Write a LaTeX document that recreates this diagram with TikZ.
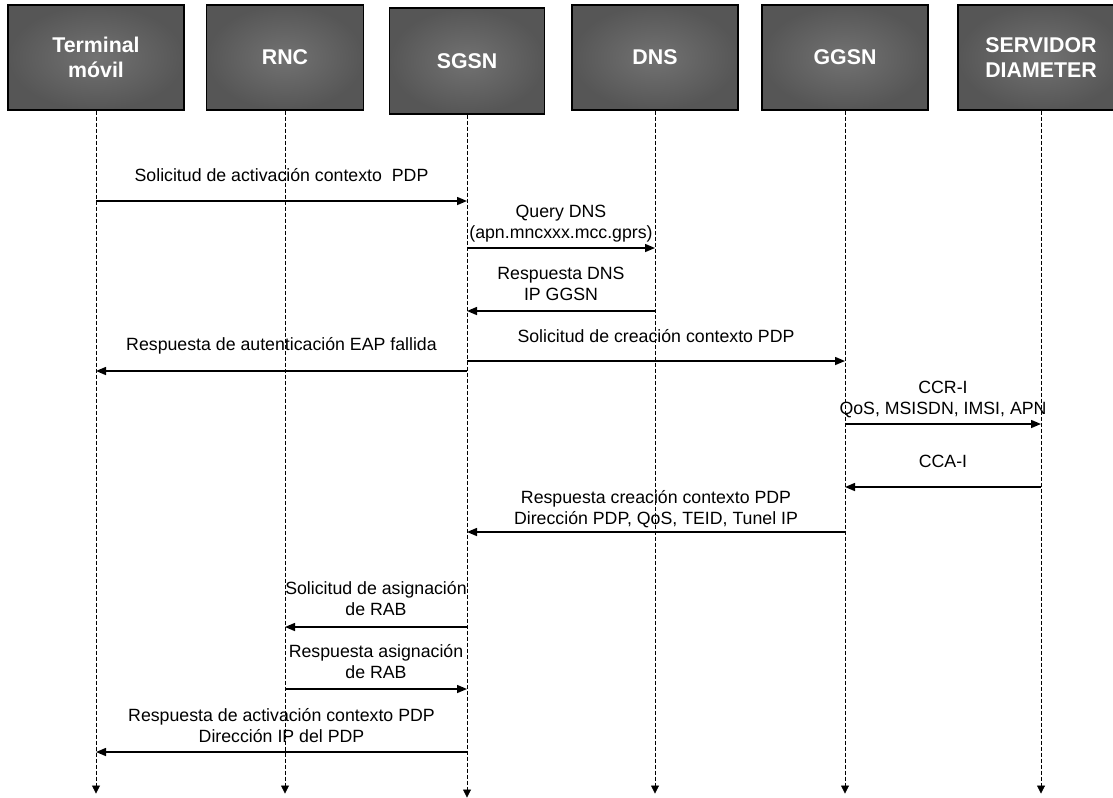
\documentclass[tikz,border=0pt]{standalone}
\usepackage{fontspec}
\setmainfont{Liberation Sans}
\usetikzlibrary{arrows.meta,positioning}
\definecolor{boxin}{RGB}{114,114,114}
\definecolor{boxout}{RGB}{86,86,86}

\begin{document}
\begin{tikzpicture}[x=0.75pt, y=-0.75pt,
  actor/.style={draw=black, line width=0.8pt, inner color=boxin, outer color=boxout, text=white, font=\bfseries\fontsize{16}{19}\selectfont, align=center, minimum height=78.75pt, inner sep=2pt},
  life/.style={-{Triangle[length=6pt, width=6pt]}, line width=0.6pt, dash pattern=on 3pt off 1.5pt},
  msg/.style={-{Triangle[length=7.5pt, width=6pt]}, line width=1.1pt},
  lbl/.style={font=\fontsize{13.3}{15.75}\selectfont, align=center, inner sep=0pt, text depth=0pt},
]
\useasboundingbox (0,0) rectangle (1113,797);

% entities along the top
\node[actor, minimum width=132pt] (tm) at (96,57.5) {Terminal\\móvil};
\node[actor, minimum width=117.75pt] (rnc) at (285,57.5) {RNC};
\node[actor, minimum width=116.25pt, minimum height=79.5pt] (sgsn) at (467,61) {SGSN};
\node[actor, minimum width=124.5pt] (dns) at (655,57.5) {DNS};
\node[actor, minimum width=124.5pt] (ggsn) at (845,57.5) {GGSN};
\node[actor, minimum width=124.5pt] (diam) at (1041,57.5) {SERVIDOR\\DIAMETER};

% lifelines
\foreach \n in {tm,rnc,sgsn,dns,ggsn,diam}
  \draw[life] (\n.south) -- ++(0,683);

% messages
\draw[msg] (tm |- 0,201) -- node[lbl, above=14.25pt] {Solicitud de activación contexto~ PDP} (sgsn |- 0,201);
\draw[msg] (sgsn |- 0,248) -- node[lbl, above=6.75pt] {Query DNS\\(apn.mncxxx.mcc.gprs)} (dns |- 0,248);
\draw[msg] (dns |- 0,311) -- node[lbl, above=7.5pt] {Respuesta DNS\\IP GGSN} (sgsn |- 0,311);
\draw[msg] (sgsn |- 0,361) -- node[lbl, above=13.5pt] {Solicitud de creación contexto PDP} (ggsn |- 0,361);
\draw[msg] (sgsn |- 0,371) -- node[lbl, above=15pt] {Respuesta de autenticación EAP fallida} (tm |- 0,371);
\draw[msg] (ggsn |- 0,424) -- node[lbl, above=6.75pt] {CCR-I\\QoS, MSISDN, IMSI, APN} (diam |- 0,424);
\draw[msg] (diam |- 0,487) -- node[lbl, above=14.25pt] {CCA-I} (ggsn |- 0,487);
\draw[msg] (ggsn |- 0,532) -- node[lbl, above=5.25pt] {Respuesta creación contexto PDP\\Dirección PDP, QoS, TEID, Tunel IP} (sgsn |- 0,532);
\draw[msg] (sgsn |- 0,627) -- node[lbl, above=8.25pt] {Solicitud de asignación\\de RAB} (rnc |- 0,627);
\draw[msg] (rnc |- 0,689) -- node[lbl, above=7.5pt] {Respuesta asignación\\de RAB} (sgsn |- 0,689);
\draw[msg] (sgsn |- 0,752) -- node[lbl, above=6.75pt] {Respuesta de activación contexto PDP\\Dirección IP del PDP} (tm |- 0,752);

\end{tikzpicture}
\end{document}
